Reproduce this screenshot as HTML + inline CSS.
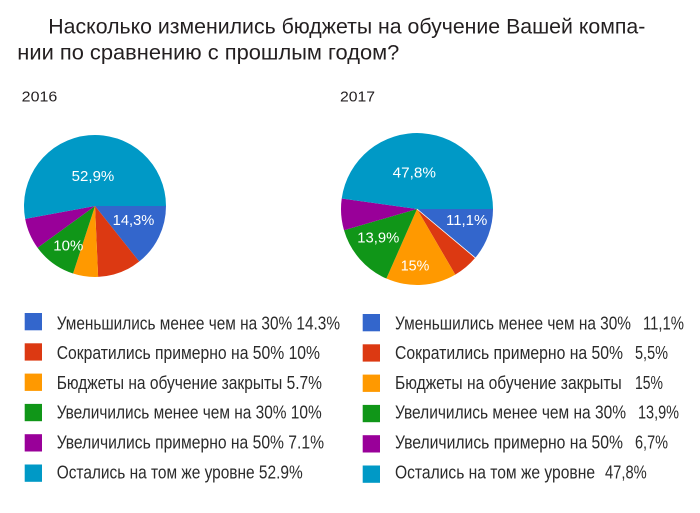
<!DOCTYPE html>
<html><head><meta charset="utf-8"><style>
html,body{margin:0;padding:0;background:#fff;}
svg{display:block;}
text{font-family:"Liberation Sans","DejaVu Sans",sans-serif;}
</style></head><body>
<svg width="700" height="513" viewBox="0 0 700 513" xmlns="http://www.w3.org/2000/svg">
<rect width="700" height="513" fill="#fff"/>
<g fill="#231f20" font-size="21">
<text x="48.3" y="33.3" textLength="597" lengthAdjust="spacingAndGlyphs">Насколько изменились бюджеты на обучение Вашей компа-</text>
<text x="17.3" y="59.3" textLength="382" lengthAdjust="spacingAndGlyphs">нии по сравнению с прошлым годом?</text>
</g>
<g fill="#231f20" font-size="14.5">
<text x="21.7" y="101.7" textLength="35.6" lengthAdjust="spacingAndGlyphs">2016</text>
<text x="340" y="101.7" textLength="35" lengthAdjust="spacingAndGlyphs">2017</text>
</g>
<!-- Pie 2016 -->
<g stroke="none">
<path d="M95,206 L166,206 A71,71 0 0 1 139.22,261.55 Z" fill="#3366cc"/>
<path d="M95,206 L139.22,261.55 A71,71 0 0 1 98.12,276.93 Z" fill="#dc3912"/>
<path d="M95,206 L98.12,276.93 A71,71 0 0 1 73.06,273.52 Z" fill="#ff9900"/>
<path d="M95,206 L73.06,273.52 A71,71 0 0 1 37.56,247.73 Z" fill="#109618"/>
<path d="M95,206 L37.56,247.73 A71,71 0 0 1 25.18,218.87 Z" fill="#990099"/>
<path d="M95,206 L25.18,218.87 A71,71 0 1 1 166,206 Z" fill="#0099c6"/>
</g>
<g fill="#fff" font-size="14.5">
<text x="71.7" y="181" textLength="42.6" lengthAdjust="spacingAndGlyphs">52,9%</text>
<text x="112.7" y="225" textLength="41.6" lengthAdjust="spacingAndGlyphs">14,3%</text>
<text x="53.3" y="250.7" textLength="30" lengthAdjust="spacingAndGlyphs">10%</text>
</g>
<!-- Pie 2017 -->
<g stroke="none">
<path d="M417,209 L493,209 A76,76 0 0 1 475.25,257.81 Z" fill="#3366cc"/>
<path d="M417,209 L475.25,257.81 A76,76 0 0 1 455.28,274.66 Z" fill="#dc3912"/>
<path d="M417,209 L455.28,274.66 A76,76 0 0 1 386.38,278.56 Z" fill="#ff9900"/>
<path d="M417,209 L386.38,278.56 A76,76 0 0 1 344.02,230.20 Z" fill="#109618"/>
<path d="M417,209 L344.02,230.20 A76,76 0 0 1 341.73,198.53 Z" fill="#990099"/>
<path d="M417,209 L341.73,198.53 A76,76 0 0 1 493,209 Z" fill="#0099c6"/>
<line x1="417" y1="209" x2="475.25" y2="257.81" stroke="#fff" stroke-width="0.8"/>
</g>
<g fill="#fff" font-size="14.5">
<text x="392.7" y="177.7" textLength="43.3" lengthAdjust="spacingAndGlyphs">47,8%</text>
<text x="446" y="225" textLength="41.3" lengthAdjust="spacingAndGlyphs">11,1%</text>
<text x="357.3" y="242.3" textLength="42" lengthAdjust="spacingAndGlyphs">13,9%</text>
<text x="400.7" y="270.7" textLength="28.6" lengthAdjust="spacingAndGlyphs">15%</text>
</g>
<!-- Legend left -->
<g>
<rect x="24.7" y="313" width="17.3" height="17.3" fill="#3366cc"/>
<rect x="24.7" y="343.3" width="17.3" height="17.3" fill="#dc3912"/>
<rect x="24.7" y="373.6" width="17.3" height="17.3" fill="#ff9900"/>
<rect x="24.7" y="403.9" width="17.3" height="17.3" fill="#109618"/>
<rect x="24.7" y="434.2" width="17.3" height="17.3" fill="#990099"/>
<rect x="24.7" y="464.5" width="17.3" height="17.3" fill="#0099c6"/>
</g>
<g fill="#2b2b2b" font-size="18">
<text x="56.7" y="329.3" textLength="283.3" lengthAdjust="spacingAndGlyphs">Уменьшились менее чем на 30% 14.3%</text>
<text x="56.7" y="359.1" textLength="263.3" lengthAdjust="spacingAndGlyphs">Сократились примерно на 50% 10%</text>
<text x="56.7" y="388.9" textLength="265.3" lengthAdjust="spacingAndGlyphs">Бюджеты на обучение закрыты 5.7%</text>
<text x="56.7" y="418.7" textLength="265" lengthAdjust="spacingAndGlyphs">Увеличились менее чем на 30% 10%</text>
<text x="56.7" y="448.5" textLength="267.3" lengthAdjust="spacingAndGlyphs">Увеличились примерно на 50% 7.1%</text>
<text x="56.7" y="478.3" textLength="246" lengthAdjust="spacingAndGlyphs">Остались на том же уровне 52.9%</text>
</g>
<!-- Legend right -->
<g>
<rect x="362.7" y="314" width="17.3" height="17.3" fill="#3366cc"/>
<rect x="362.7" y="344.3" width="17.3" height="17.3" fill="#dc3912"/>
<rect x="362.7" y="374.6" width="17.3" height="17.3" fill="#ff9900"/>
<rect x="362.7" y="404.9" width="17.3" height="17.3" fill="#109618"/>
<rect x="362.7" y="435.2" width="17.3" height="17.3" fill="#990099"/>
<rect x="362.7" y="465.5" width="17.3" height="17.3" fill="#0099c6"/>
</g>
<g fill="#2b2b2b" font-size="18">
<text x="395" y="329.3" textLength="236" lengthAdjust="spacingAndGlyphs">Уменьшились менее чем на 30%</text>
<text x="643" y="329.3" textLength="41" lengthAdjust="spacingAndGlyphs">11,1%</text>
<text x="395" y="359.1" textLength="228" lengthAdjust="spacingAndGlyphs">Сократились примерно на 50%</text>
<text x="635" y="359.1" textLength="33" lengthAdjust="spacingAndGlyphs">5,5%</text>
<text x="395" y="388.9" textLength="226.7" lengthAdjust="spacingAndGlyphs">Бюджеты на обучение закрыты</text>
<text x="635" y="388.9" textLength="28" lengthAdjust="spacingAndGlyphs">15%</text>
<text x="395" y="418.7" textLength="231" lengthAdjust="spacingAndGlyphs">Увеличились менее чем на 30%</text>
<text x="638" y="418.7" textLength="41" lengthAdjust="spacingAndGlyphs">13,9%</text>
<text x="395" y="448.5" textLength="228" lengthAdjust="spacingAndGlyphs">Увеличились примерно на 50%</text>
<text x="635" y="448.5" textLength="33" lengthAdjust="spacingAndGlyphs">6,7%</text>
<text x="395" y="478.3" textLength="200" lengthAdjust="spacingAndGlyphs">Остались на том же уровне</text>
<text x="605" y="478.3" textLength="41.7" lengthAdjust="spacingAndGlyphs">47,8%</text>
</g>
</svg>
</body></html>
